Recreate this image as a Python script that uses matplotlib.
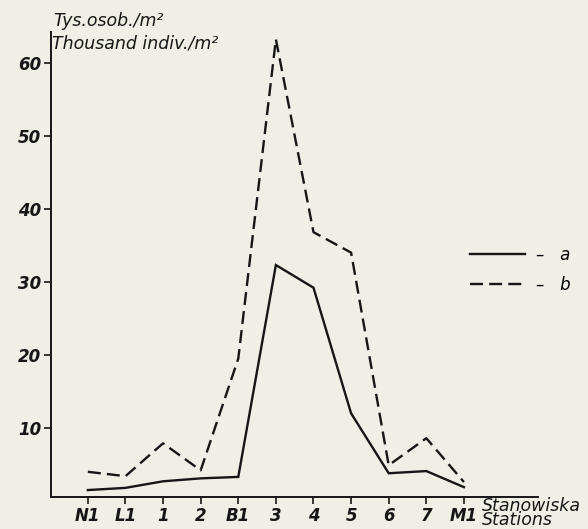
import matplotlib
matplotlib.use("Agg")
import matplotlib.pyplot as plt

# stations along the x axis
stations = ['N1', 'L1', '1', '2', 'B1', '3', '4', '5', '6', '7', 'M1']

# thousand individuals per m2
a_vals = [1.5, 1.8, 2.7, 3.1, 3.3, 32.3, 29.2, 12.0, 3.8, 4.1, 1.9]
b_vals = [4.0, 3.4, 7.9, 4.2, 19.5, 63.2, 36.8, 34.0, 4.9, 8.6, 2.6]

yticks = [10, 20, 30, 40, 50, 60]

bg = '#efefe6'
ink = '#161616'


def main():
    fig = plt.figure(figsize=(5.88, 5.29), dpi=100, facecolor=bg)
    W, H = 588, 529
    ax = fig.add_axes([51 / W, 1 - 497 / H, (538 - 51) / W, (497 - 32) / H])
    ax.set_facecolor(bg)

    x = list(range(len(stations)))
    la, = ax.plot(x, a_vals, color=ink, lw=1.7, solid_joinstyle='miter')
    lb, = ax.plot(x, b_vals, color=ink, lw=1.7, dashes=(5.5, 2.6))

    ax.set_xlim(-0.98, 11.97)
    ax.set_ylim(0.55, 64.2)
    ax.set_xticks(x)
    ax.set_xticklabels(stations)
    ax.set_yticks(yticks)
    ax.set_yticklabels([str(v) for v in yticks])

    for side in ['top', 'right']:
        ax.spines[side].set_visible(False)
    for side in ['left', 'bottom']:
        ax.spines[side].set_color(ink)
        ax.spines[side].set_linewidth(1.4)

    ax.tick_params(axis='both', direction='out', length=5, width=1.2,
                   color=ink, labelcolor=ink, labelsize=12, pad=2)
    for t in ax.get_xticklabels() + ax.get_yticklabels():
        t.set_fontstyle('italic')
        t.set_fontweight('bold')

    ax.legend([la, lb], ['\u2013   a', '\u2013   b'], loc='center left',
              bbox_to_anchor=(455 / W, 1 - 270 / H), bbox_transform=fig.transFigure,
              frameon=False, handlelength=3.3, handletextpad=0.65,
              labelspacing=0.7, prop={'style': 'italic', 'size': 12})

    fig.text(53 / W, 1 - 21 / H, 'Tys.osob./m\u00b2', fontsize=12.5,
             style='italic', color=ink, va='center')
    fig.text(52 / W, 1 - 44 / H, 'Thousand indiv./m\u00b2', fontsize=12.5,
             style='italic', color=ink, va='center')
    fig.text(482 / W, 1 - 513 / H, 'Stanowiska\nStations', fontsize=12.5,
             style='italic', color=ink, va='center', linespacing=0.75)

    fig.savefig('out.png', dpi=100, facecolor=bg)


if __name__ == "__main__":
    main()
